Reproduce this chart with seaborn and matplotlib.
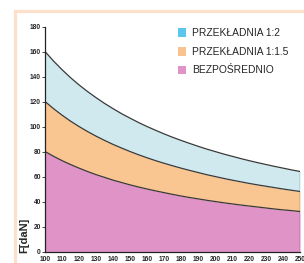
import matplotlib
matplotlib.use("Agg")
import matplotlib.pyplot as plt
import seaborn as sns
import pandas as pd
from matplotlib.patches import Patch, Rectangle

speed = [100, 105, 110, 115, 120, 125, 130, 135, 140, 145, 150, 155, 160, 165, 170, 175,
         180, 185, 190, 195, 200, 205, 210, 215, 220, 225, 230, 235, 240, 245, 250]
ratio_2 = [160, 152.4, 145.5, 139.1, 133.3, 128, 123.1, 118.5, 114.3, 110.3, 106.7, 103.2,
           100, 97, 94.1, 91.4, 88.9, 86.5, 84.2, 82, 80, 78, 76.2, 74.4, 72.7, 71.1,
           69.6, 68.1, 66.7, 65.3, 64]
ratio_15 = [120, 114.3, 109.1, 104.3, 100, 96, 92.3, 88.9, 85.7, 82.8, 80, 77.4, 75, 72.7,
            70.6, 68.6, 66.7, 64.9, 63.2, 61.5, 60, 58.5, 57.1, 55.8, 54.5, 53.3, 52.2,
            51.1, 50, 49, 48]
direct = [80, 76.2, 72.7, 69.6, 66.7, 64, 61.5, 59.3, 57.1, 55.2, 53.3, 51.6, 50, 48.5,
          47.1, 45.7, 44.4, 43.2, 42.1, 41, 40, 39, 38.1, 37.2, 36.4, 35.6, 34.8, 34,
          33.3, 32.7, 32]
x_ticks = [100, 110, 120, 130, 140, 150, 160, 170, 180, 190, 200, 210, 220, 230, 240, 250]
y_ticks = [0, 20, 40, 60, 80, 100, 120, 140, 160, 180]
labels = ["PRZEKŁADNIA 1:2", "PRZEKŁADNIA 1:1.5", "BEZPOŚREDNIO"]
legend_colors = ["#5cc6ec", "#f9c28f", "#df93c6"]
fill_colors = ["#cfe9ef", "#f9c590", "#df93c6"]

sns.set_style("white")
plt.rcParams['font.family'] = ['Liberation Sans Narrow', 'Liberation Sans', 'DejaVu Sans']

df = pd.DataFrame({"v": speed, "r2": ratio_2, "r15": ratio_15, "d": direct})

fig = plt.figure(figsize=(3.04, 2.63), dpi=100)
ax = fig.add_axes([45/304, 1-251.5/263, 255/304, 225/263])

ax.fill_between(df["v"], 0, df["d"], color=fill_colors[2], lw=0)
ax.fill_between(df["v"], df["d"], df["r15"], color=fill_colors[1], lw=0)
ax.fill_between(df["v"], df["r15"], df["r2"], color=fill_colors[0], lw=0)
for col in ["r2", "r15", "d"]:
    sns.lineplot(data=df, x="v", y=col, ax=ax, color="#3a3a3a", lw=0.9)
ax.plot([speed[-1], speed[-1]], [0, ratio_2[-1]], color="#3a3a3a", lw=0.9)

ax.set_xlim(100, 250)
ax.set_ylim(0, 180)
ax.set_xticks(x_ticks)
ax.set_yticks(y_ticks)
ax.tick_params(axis="both", labelsize=4.8, length=2, width=0.6, pad=1, direction="out",
               left=True, bottom=False)
for t in ax.get_xticklabels() + ax.get_yticklabels():
    t.set_fontweight("bold")
ax.set_xlabel("")
ax.set_ylabel("F[daN]", fontsize=8, fontweight="bold")
ax.yaxis.set_label_coords(-0.06, 0.07)
for s in ["top", "right"]:
    ax.spines[s].set_visible(False)
for s in ["left", "bottom"]:
    ax.spines[s].set_linewidth(0.9)
    ax.spines[s].set_color("#222222")

handles = [Patch(facecolor=c, edgecolor="none") for c in legend_colors]
fig.legend(handles, labels, loc="upper left", bbox_to_anchor=(178/304, 1-28/263),
           frameon=False, fontsize=7.4, handlelength=0.8, handleheight=0.95,
           handletextpad=0.6, labelspacing=0.85, borderaxespad=0, borderpad=0)

fig.patches.append(Rectangle((14.5/304, -0.2), 1.5, 1.2 - 10.5/263,
                             transform=fig.transFigure, fill=False,
                             edgecolor="#fde0cc", lw=2.3))

fig.savefig("out.png", dpi=100)
